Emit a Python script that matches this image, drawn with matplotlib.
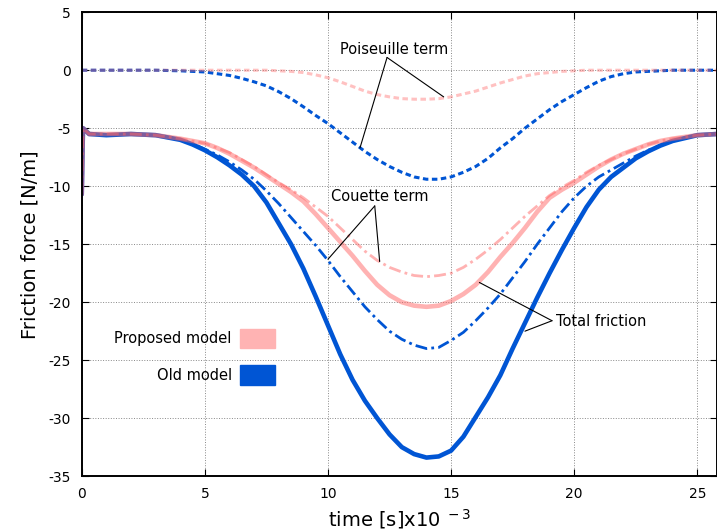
import matplotlib
matplotlib.use("Agg")
import matplotlib.pyplot as plt
from matplotlib.patches import Rectangle

plt.rcParams["axes.unicode_minus"] = False

# time in ms (x10^-3 s)
time_ms = [0, 0.05, 0.3, 1, 2, 3,
           4, 4.5, 5, 5.5, 6, 6.5, 7, 7.5, 8, 8.5, 9, 9.5, 10, 10.5, 11, 11.5,
           12, 12.5, 13, 13.5, 14, 14.5, 15, 15.5, 16, 16.5, 17, 17.5, 18, 18.5,
           19, 19.5, 20, 20.5, 21, 21.5, 22, 22.5, 23, 23.5, 24,
           25, 25.8]

# old model
old_total = [-10.7, -5.0, -5.5, -5.6, -5.5, -5.6,
             -6.0, -6.4, -6.9, -7.5, -8.2, -9.0, -10.0, -11.4, -13.2, -15.0, -17.1,
             -19.5, -22.0, -24.5, -26.7, -28.5, -30.0, -31.4, -32.5, -33.1, -33.4,
             -33.3, -32.8, -31.6, -29.9, -28.2, -26.3, -24.0, -21.8, -19.6, -17.5,
             -15.5, -13.6, -11.8, -10.3, -9.2, -8.4, -7.6, -7.0, -6.5, -6.1,
             -5.6, -5.5]
old_couette = [-10.7, -5.0, -5.5, -5.6, -5.5, -5.6,
               -6.0, -6.35, -6.8, -7.3, -7.9, -8.6, -9.4, -10.4, -11.5, -12.7, -13.9,
               -15.1, -16.4, -17.8, -19.1, -20.4, -21.5, -22.5, -23.2, -23.7, -24.0,
               -23.9, -23.3, -22.6, -21.6, -20.5, -19.3, -17.9, -16.5, -15.0, -13.6,
               -12.2, -11.0, -10.0, -9.2, -8.6, -8.0, -7.4, -6.9, -6.5, -6.1,
               -5.6, -5.5]
old_poiseuille = [0, 0, 0, 0, 0, 0,
                  -0.05, -0.1, -0.15, -0.3, -0.45, -0.7, -1.0, -1.35, -1.85, -2.45,
                  -3.15, -3.9, -4.6, -5.4, -6.2, -7.0, -7.7, -8.3, -8.8, -9.2, -9.4,
                  -9.4, -9.2, -8.8, -8.3, -7.6, -6.7, -5.9, -5.0, -4.2, -3.4, -2.7,
                  -2.1, -1.5, -0.95, -0.55, -0.3, -0.15, -0.1, -0.05, 0,
                  0, 0]

# proposed model
new_total = [-10.7, -5.0, -5.5, -5.5, -5.5, -5.6,
             -5.9, -6.1, -6.3, -6.7, -7.2, -7.8, -8.4, -9.1, -9.8, -10.5, -11.3,
             -12.4, -13.6, -14.8, -16.0, -17.3, -18.5, -19.4, -20.0, -20.3, -20.4,
             -20.3, -19.9, -19.3, -18.5, -17.4, -16.1, -14.9, -13.6, -12.2, -11.0,
             -10.3, -9.7, -9.0, -8.3, -7.7, -7.2, -6.8, -6.4, -6.1, -5.9,
             -5.6, -5.5]
new_couette = [-10.7, -5.0, -5.5, -5.5, -5.5, -5.6,
               -5.9, -6.1, -6.3, -6.7, -7.1, -7.7, -8.3, -9.0, -9.7, -10.3, -11.0,
               -11.8, -12.6, -13.6, -14.6, -15.6, -16.4, -17.0, -17.4, -17.7, -17.8,
               -17.7, -17.5, -17.0, -16.3, -15.5, -14.6, -13.6, -12.6, -11.7, -10.8,
               -10.1, -9.5, -8.8, -8.2, -7.7, -7.2, -6.8, -6.4, -6.1, -5.9,
               -5.6, -5.5]
new_poiseuille = [0, 0, 0, 0, 0, 0,
                  0, 0, 0, 0, 0, 0, 0, 0, -0.05, -0.1, -0.2, -0.4, -0.65, -1.0,
                  -1.4, -1.8, -2.1, -2.3, -2.45, -2.5, -2.5, -2.45, -2.3, -2.05, -1.8,
                  -1.45, -1.1, -0.8, -0.5, -0.3, -0.2, -0.1, -0.05, 0, 0, 0, 0, 0,
                  0, 0, 0,
                  0, 0]

BLUE = "#0055d4"
PINK = "#ff6666"

fig = plt.figure(figsize=(7.17, 5.32), dpi=100)
ax = fig.add_axes([0.114, 0.105, 0.886, 0.872])

dots = (0, (1.8, 1.15))
dashdot = (0, (4.3, 1.5, 1.0, 1.5))

ax.plot(time_ms, old_poiseuille, color=BLUE, lw=2.2, ls=dots)
ax.plot(time_ms, old_couette, color=BLUE, lw=2.0, ls=dashdot)
ax.plot(time_ms, old_total, color=BLUE, lw=3.3, solid_capstyle="round",
        solid_joinstyle="round")
ax.plot(time_ms, new_poiseuille, color=PINK, lw=2.2, ls=dots, alpha=0.4)
ax.plot(time_ms, new_couette, color=PINK, lw=2.0, ls=dashdot, alpha=0.5)
ax.plot(time_ms, new_total, color=PINK, lw=3.3, alpha=0.5, solid_capstyle="round",
        solid_joinstyle="round")

ax.set_xlim(0, 25.8)
ax.set_ylim(-35, 5)
ax.set_xticks(range(0, 26, 5))
ax.set_yticks(range(-35, 6, 5))
ax.grid(True, color="#888888", ls=":", lw=0.7)
ax.tick_params(direction="in", length=5, top=True, right=True, labelsize=10, pad=8)
for sp in ax.spines.values():
    sp.set_linewidth(1.4)

ax.set_xlabel(r"time [s]x10$^{\ -3}$", fontsize=14, labelpad=4)
ax.set_ylabel("Friction force [N/m]", fontsize=14, labelpad=6)

# annotations
line_kw = dict(arrowstyle="-", lw=0.8, color="black", shrinkA=0, shrinkB=0)
ax.text(12.7, 1.8, "Poiseuille term", ha="center", va="center", fontsize=10.5)
for target in [(11.3, -6.7), (14.7, -2.3)]:
    ax.annotate("", xy=target, xytext=(12.4, 1.1), arrowprops=line_kw)

ax.text(12.1, -10.9, "Couette term", ha="center", va="center", fontsize=10.5)
for target in [(10.0, -16.3), (12.1, -16.5)]:
    ax.annotate("", xy=target, xytext=(11.9, -11.7), arrowprops=line_kw)

ax.text(19.25, -21.7, "Total friction", ha="left", va="center", fontsize=10.5)
for target in [(16.15, -18.3), (18.0, -22.5)]:
    ax.annotate("", xy=target, xytext=(19.1, -21.6), arrowprops=line_kw)

# legend boxes
legend_items = [("Proposed model", "#ffb3b3", 0.297), ("Old model", BLUE, 0.218)]
for label, col, yc in legend_items:
    ax.text(0.236, yc, label, transform=ax.transAxes, ha="right", va="center",
            fontsize=10.5)
    ax.add_patch(Rectangle((0.249, yc - 0.0205), 0.055, 0.041,
                           transform=ax.transAxes, color=col, zorder=5))

fig.savefig("out.png", dpi=100)
